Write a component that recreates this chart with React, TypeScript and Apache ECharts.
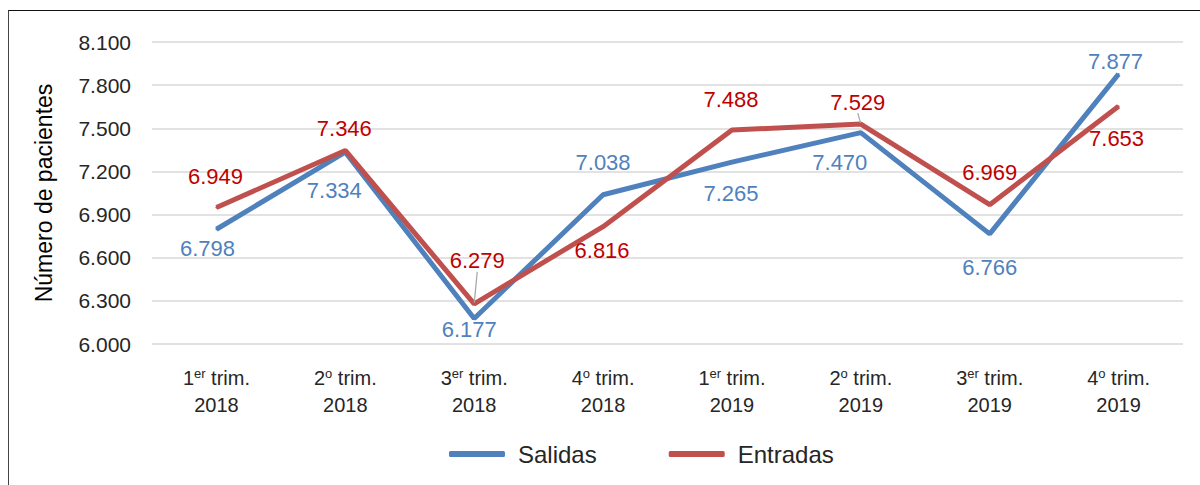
import React, { useEffect, useRef } from "react";
import * as echarts from "echarts";

const categories = [
  "{n|1}{s|er}{n| trim.}\n{n|2018}",
  "{n|2}{s|o}{n| trim.}\n{n|2018}",
  "{n|3}{s|er}{n| trim.}\n{n|2018}",
  "{n|4}{s|o}{n| trim.}\n{n|2018}",
  "{n|1}{s|er}{n| trim.}\n{n|2019}",
  "{n|2}{s|o}{n| trim.}\n{n|2019}",
  "{n|3}{s|er}{n| trim.}\n{n|2019}",
  "{n|4}{s|o}{n| trim.}\n{n|2019}",
];
const salidas = [6798, 7334, 6177, 7038, 7265, 7470, 6766, 7877];
const entradas = [6949, 7346, 6279, 6816, 7488, 7529, 6969, 7653];
const salidasLabelShift = [[-9, 19], [-11, 38], [-5, 11], [0, -32], [-1, 31], [-21, 30], [0, 34], [-3, -13]];
const entradasLabelShift = [[-1, -31], [-1, -22], [3, -43], [-1, 24], [-1, -31], [-3, -22], [0, -32], [-2, 32]];
const leaderEntradas = [false, false, true, false, false, true, false, false];

const FONT = "'Liberation Sans', Arial, sans-serif";
const BLUE = "#4F81BD";
const RED = "#C0504D";
const fmt = (v: number) => (v / 1000).toFixed(3);

export default function App() {
  const ref = useRef<HTMLDivElement>(null);
  useEffect(() => {
    if (!ref.current) return;
    const chart = echarts.init(ref.current, null, { renderer: "svg" });
    const mkData = (vals: number[], leaders?: boolean[]) =>
      vals.map((v, i) => ({
        value: v,
        labelLine: { show: !!(leaders && leaders[i]) },
      }));
    chart.setOption({
      animation: false,
      textStyle: { fontFamily: FONT },
      grid: { left: 152, right: 17, top: 42, bottom: 141 },
      legend: {
        top: 437,
        left: 444,
        itemWidth: 56,
        itemHeight: 6,
        itemGap: 72,
        icon: "roundRect",
        textStyle: { fontSize: 24, color: "#262626", fontFamily: FONT, padding: [0, 0, 0, 8] },
        data: ["Salidas", "Entradas"],
      },
      xAxis: {
        type: "category",
        data: categories,
        boundaryGap: true,
        axisLine: { show: false },
        axisTick: { show: false },
        axisLabel: {
          margin: 20,
          interval: 0,
          color: "#262626",
          rich: {
            n: { fontSize: 20, lineHeight: 27, color: "#262626", fontFamily: FONT },
            s: { fontSize: 13, lineHeight: 27, color: "#262626", fontFamily: FONT, padding: [0, 0, 9, 0] },
          },
        },
      },
      yAxis: {
        type: "value",
        min: 6000,
        max: 8100,
        interval: 300,
        name: "Número de pacientes",
        nameLocation: "middle",
        nameRotate: 90,
        nameGap: 97,
        nameTextStyle: { fontSize: 23, color: "#000", fontFamily: FONT },
        axisLine: { show: false },
        axisTick: { show: false },
        axisLabel: { formatter: fmt, fontSize: 21, color: "#262626", margin: 21, fontFamily: FONT },
        splitLine: { lineStyle: { color: "#d9d9d9", width: 1.5 } },
      },
      series: [
        {
          name: "Salidas",
          type: "line",
          data: mkData(salidas),
          symbol: "circle",
          symbolSize: 2,
          itemStyle: { color: BLUE },
          lineStyle: { color: BLUE, width: 5 },
          z: 2,
          label: {
            show: true,
            position: "inside",
            formatter: (p: any) => fmt(p.value),
            fontSize: 22,
            color: "#4F81BD",
            fontFamily: FONT,
          },
          labelLayout: (p: any) => ({ dx: salidasLabelShift[p.dataIndex][0], dy: salidasLabelShift[p.dataIndex][1] }),
        },
        {
          name: "Entradas",
          type: "line",
          data: mkData(entradas, leaderEntradas),
          symbol: "circle",
          symbolSize: 2,
          itemStyle: { color: RED },
          lineStyle: { color: RED, width: 5 },
          z: 3,
          label: {
            show: true,
            position: "inside",
            formatter: (p: any) => fmt(p.value),
            fontSize: 22,
            color: "#C00000",
            fontFamily: FONT,
          },
          labelLine: { show: false, lineStyle: { color: "#a6a6a6", width: 1.2 } },
          labelLayout: (p: any) => ({ dx: entradasLabelShift[p.dataIndex][0], dy: entradasLabelShift[p.dataIndex][1] }),
        },
      ],
    });
    return () => chart.dispose();
  }, []);
  return (
    <div style={{ position: "fixed", left: 0, top: 0, width: 1200, height: 485, background: "#fff" }}>
      <div
        style={{
          position: "absolute",
          left: 8,
          top: 10,
          width: 1192,
          height: 475,
          borderLeft: "1.5px solid #444",
          borderTop: "1.5px solid #111",
          boxSizing: "border-box",
        }}
      />
      <div ref={ref} style={{ position: "absolute", left: 0, top: 0, width: 1200, height: 485 }} />
    </div>
  );
}
